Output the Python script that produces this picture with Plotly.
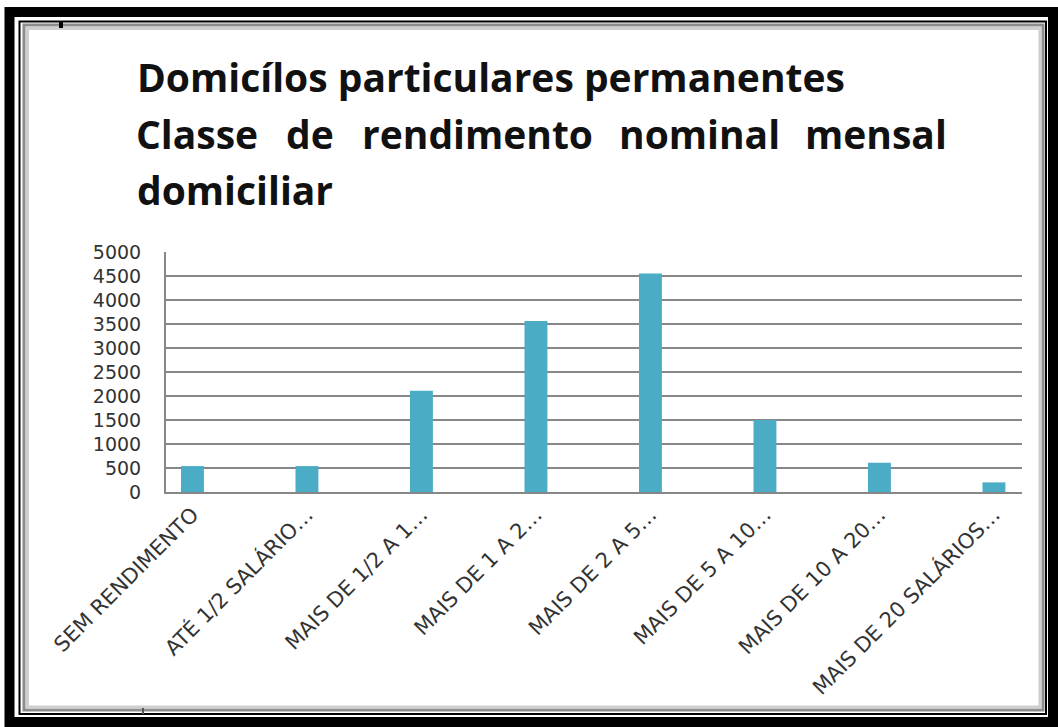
import plotly.graph_objects as go

categories = [
    "SEM RENDIMENTO",
    "ATÉ 1/2 SALÁRIO…",
    "MAIS DE 1/2 A 1…",
    "MAIS DE 1 A 2…",
    "MAIS DE 2 A 5…",
    "MAIS DE 5 A 10…",
    "MAIS DE 10 A 20…",
    "MAIS DE 20 SALÁRIOS…",
]
values = [540, 540, 2110, 3560, 4550, 1500, 610, 200]
y_ticks = [0, 500, 1000, 1500, 2000, 2500, 3000, 3500, 4000, 4500, 5000]

title_line1 = "Domicílos particulares permanentes"
title_line2_words = ["Classe", "de", "rendimento", "nominal", "mensal"]
title_line3 = "domiciliar"

W, H = 1058, 727
L, R, T, B = 166, 1022, 252, 492
PW, PH = R - L, B - T


def px(x):
    return (x - L) / PW


def py(y):
    return (B - y) / PH


fig = go.Figure()
fig.add_trace(go.Bar(
    x=categories, y=values,
    marker=dict(color="#4BACC6", line=dict(width=0)),
    hoverinfo="x+y",
))

grid_col = "#878787"
fig.update_layout(
    width=W, height=H, autosize=False,
    margin=dict(l=L, r=W - R, t=T, b=H - B, pad=0),
    paper_bgcolor="white", plot_bgcolor="white",
    bargap=0.8,
    showlegend=False,
    xaxis=dict(
        type="category", range=[-0.231, 7.245],
        showgrid=False, showline=True, linecolor=grid_col,
        linewidth=2, ticks="", tickangle=-45,
        tickfont=dict(family="DejaVu Sans", size=21, color="#333333"),
        zeroline=False,
    ),
    yaxis=dict(
        range=[0, 5000], tickvals=y_ticks, ticktext=[str(v) for v in y_ticks],
        showgrid=True, gridcolor=grid_col, gridwidth=2,
        showline=True, linecolor=grid_col, linewidth=2, ticks="",
        ticklabelstandoff=19,
        tickfont=dict(family="DejaVu Sans", size=19, color="#333333"),
        zeroline=False,
    ),
)

title_font = dict(family="Open Sans", size=39, color="#111111", weight="bold")
annos = []
annos.append(dict(x=px(135), y=py(77), xref="paper", yref="paper", text=title_line1,
                  showarrow=False, xanchor="left", yanchor="middle", font=title_font))
word_cx = [197, 310, 477, 699.5, 875.5]
for w, x in zip(title_line2_words, word_cx):
    annos.append(dict(x=px(x), y=py(133), xref="paper", yref="paper", text=w,
                      showarrow=False, xanchor="center", yanchor="middle", font=title_font))
annos.append(dict(x=px(135), y=py(189), xref="paper", yref="paper", text=title_line3,
                  showarrow=False, xanchor="left", yanchor="middle", font=title_font))
fig.update_layout(annotations=annos)

shapes = [
    dict(type="rect", xref="paper", yref="paper", x0=px(9.5), x1=px(1053), y0=py(12), y1=py(722),
         line=dict(color="black", width=10)),
    dict(type="rect", xref="paper", yref="paper", x0=px(19.5), x1=px(1046), y0=py(21.5), y1=py(714),
         line=dict(color="black", width=2)),
    dict(type="rect", xref="paper", yref="paper", x0=px(24), x1=px(1043), y0=py(25), y1=py(710),
         line=dict(color="#8c8c8c", width=3)),
    dict(type="rect", xref="paper", yref="paper", x0=px(27.5), x1=px(1040), y0=py(28.5), y1=py(707),
         line=dict(color="#cfcfcf", width=3)),
    dict(type="line", xref="paper", yref="paper", x0=px(61), x1=px(61), y0=py(22), y1=py(28),
         line=dict(color="black", width=4)),
    dict(type="line", xref="paper", yref="paper", x0=px(143), x1=px(143), y0=py(708), y1=py(714),
         line=dict(color="#555555", width=2)),
]
fig.update_layout(shapes=shapes)

fig.write_html("out.html", config={"displayModeBar": False},
               post_script="document.body.style.margin='0';")
